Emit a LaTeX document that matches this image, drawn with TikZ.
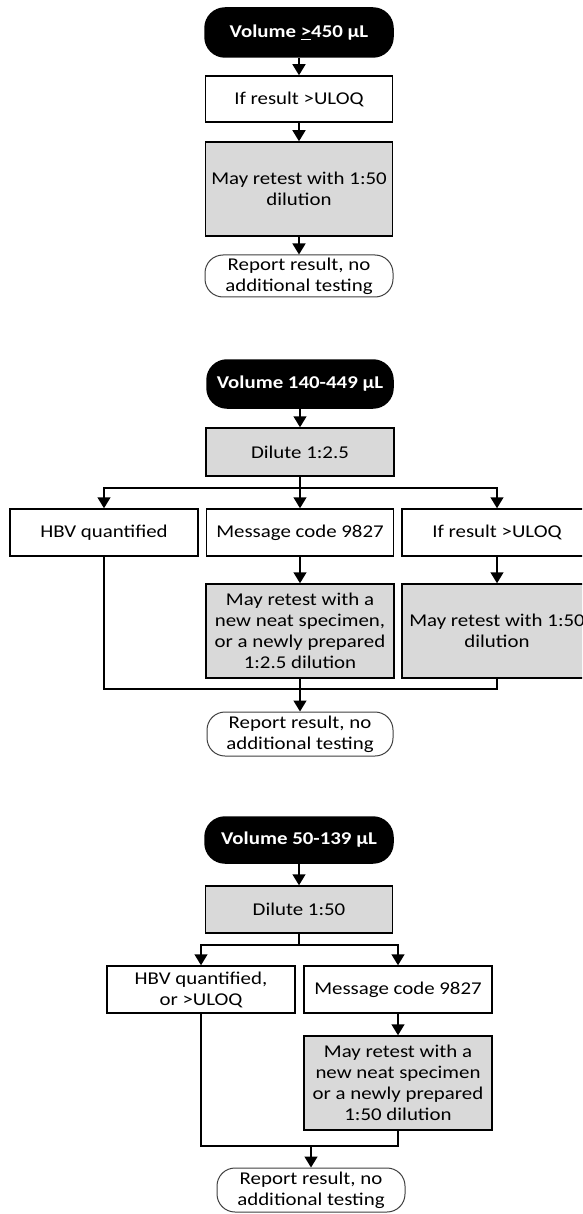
\documentclass[tikz,border=0pt]{standalone}
\usepackage{fontspec}
\setmainfont{Carlito}[FakeStretch=1.16]
\usetikzlibrary{arrows.meta}
\definecolor{boxgray}{HTML}{D9D9D9}
\tikzset{
  base/.style={draw=black, line width=1.5pt, align=center, inner sep=0pt,
    font=\fontsize{18}{21}\selectfont, text=black},
  wbox/.style={base, fill=white},
  gbox/.style={base, fill=boxgray},
  pill/.style={base, fill=black, text=white, font=\fontsize{18}{21}\selectfont\bfseries, rounded corners=20pt},
  term/.style={base, fill=white, line width=1pt, draw=black!75, rounded corners=18pt},
  arr/.style={line width=1.5pt, -{Triangle[length=11pt,width=13pt]}},
  link/.style={line width=1.5pt}
}
\begin{document}
\begin{tikzpicture}[x=1pt,y=1pt]
\useasboundingbox (0,0) rectangle (582,-1214);
\clip (0,0) rectangle (582,-1214);
% ---------- top section ----------
\node[pill, minimum width=188pt, minimum height=49pt] (p1) at (299,-32.5) {Volume \underline{>}450 µL};
\node[wbox, minimum width=187pt, minimum height=46pt] (u1) at (299,-99) {If result >ULOQ};
\node[gbox, minimum width=187pt, minimum height=94pt] (g1) at (299,-189) {May retest with 1:50\\dilution};
\node[term, minimum width=188pt, minimum height=42pt] (t1) at (299,-276) {Report result, no\\additional testing};
\draw[arr] (p1) -- (u1);
\draw[arr] (u1) -- (g1);
\draw[arr] (g1) -- (t1);
% ---------- middle section ----------
\node[pill, minimum width=186pt, minimum height=48pt] (p2) at (300,-384) {Volume 140-449 µL};
\node[gbox, minimum width=188pt, minimum height=48pt] (d2) at (300,-452) {Dilute 1:2.5};
\node[wbox, minimum width=188pt, minimum height=47pt] (h2) at (104,-532.5) {HBV quantified};
\node[wbox, minimum width=187pt, minimum height=47pt] (m2) at (300,-532.5) {Message code 9827};
\node[wbox, minimum width=190pt, minimum height=47pt] (u2) at (497,-532.5) {If result >ULOQ};
\node[gbox, minimum width=188pt, minimum height=94pt] (ga2) at (300,-631) {May retest with a\\new neat specimen,\\or a newly prepared\\1:2.5 dilution};
\node[gbox, minimum width=190pt, minimum height=94pt] (gb2) at (497,-631) {May retest with 1:50\\dilution};
\node[term, minimum width=186pt, minimum height=44pt] (t2) at (300,-734) {Report result, no\\additional testing};
\coordinate (b2) at (300,-488);
\coordinate (j2) at (300,-689);
\draw[arr] (p2) -- (d2);
\draw[link] (d2.south) -- (b2);
\draw[arr] (b2) -| (h2.north);
\draw[arr] (b2) -- (m2.north);
\draw[arr] (b2) -| (u2.north);
\draw[arr] (m2) -- (ga2);
\draw[arr] (u2) -- (gb2);
\draw[link] (h2.south) |- (j2) -| (gb2.south);
\draw[arr] (ga2.south) -- (t2.north);
% ---------- bottom section ----------
\node[pill, minimum width=188pt, minimum height=46pt] (p3) at (299,-840) {Volume 50-139 µL};
\node[gbox, minimum width=187pt, minimum height=47pt] (d3) at (299,-909.5) {Dilute 1:50};
\node[wbox, minimum width=188pt, minimum height=47pt] (h3) at (201,-989.5) {HBV quantified,\\or >ULOQ};
\node[wbox, minimum width=188pt, minimum height=47pt] (m3) at (398,-989.5) {Message code 9827};
\node[gbox, minimum width=188pt, minimum height=94pt] (g3) at (398,-1083) {May retest with a\\new neat specimen\\or a newly prepared\\1:50 dilution};
\node[term, minimum width=188pt, minimum height=44pt] (t3) at (311,-1190) {Report result, no\\additional testing};
\coordinate (b3) at (299,-945);
\coordinate (j3) at (311,-1146);
\draw[arr] (p3) -- (d3);
\draw[link] (d3.south) -- (b3);
\draw[arr] (b3) -| (h3.north);
\draw[arr] (b3) -| (m3.north);
\draw[arr] (m3) -- (g3);
\draw[link] (h3.south) |- (j3) -| (g3.south);
\draw[arr] (j3) -- (t3.north);
\end{tikzpicture}
\end{document}
